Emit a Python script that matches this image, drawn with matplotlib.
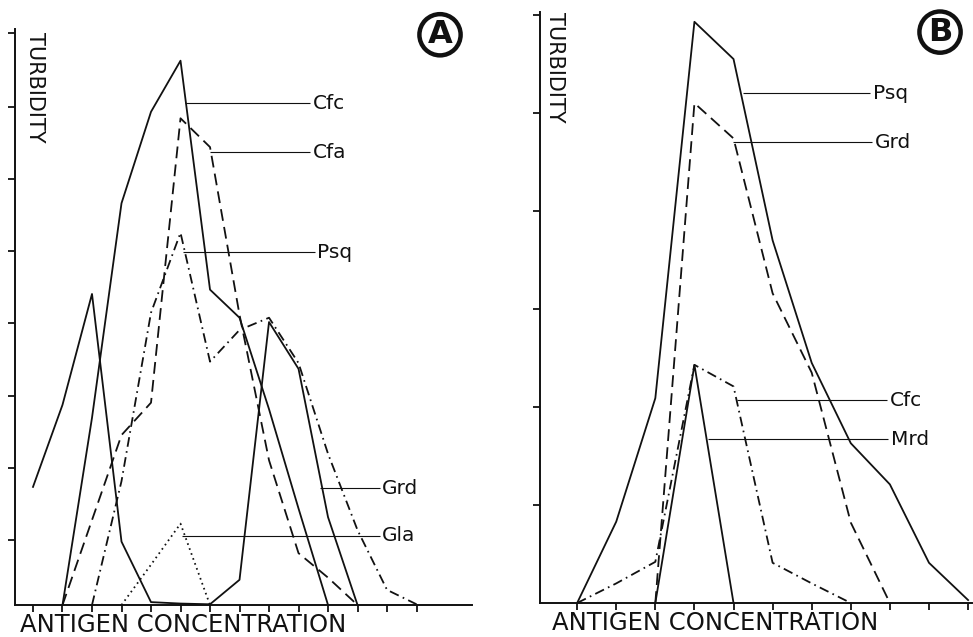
import matplotlib
matplotlib.use("Agg")
import matplotlib.pyplot as plt

plt.rcParams['font.family'] = ['DejaVu Sans']
plt.rcParams['lines.scale_dashes'] = False

# ---------------- Panel A data (x = dilution step index, y = turbidity, arbitrary units)
a_grd_x = [0, 1, 2, 3, 4, 5, 6, 7, 8, 9, 10, 11]
a_grd_y = [1.64, 2.78, 4.32, 0.88, 0.04, 0.02, 0.01, 0.35, 3.93, 3.28, 1.22, 0.0]

a_cfc_x = [1, 2, 3, 4, 5, 6, 7, 8, 9, 10]
a_cfc_y = [0.0, 2.6, 5.58, 6.85, 7.56, 4.38, 3.99, 2.72, 1.34, 0.0]

a_cfa_x = [1, 2, 3, 4, 5, 6, 7, 8, 9, 10, 11]
a_cfa_y = [0.0, 1.18, 2.36, 2.81, 6.76, 6.36, 4.03, 2.01, 0.72, 0.38, 0.0]

a_psq_x = [2, 3, 4, 5, 6, 7, 8, 9, 10, 11, 12, 13]
a_psq_y = [0.0, 1.72, 4.06, 5.17, 3.38, 3.82, 3.99, 3.36, 2.1, 1.04, 0.21, 0.01]

a_gla_x = [3, 4, 5, 6]
a_gla_y = [0.0, 0.56, 1.13, 0.0]

a_xticks = list(range(14))
a_yticks = [0.9, 1.9, 2.9, 3.92, 4.92, 5.92, 6.92, 7.94]

# ---------------- Panel B data
b_psq_x = [0, 1, 2, 3, 4, 5, 6, 7, 8, 9, 10]
b_psq_y = [0.0, 0.83, 2.09, 5.93, 5.55, 3.70, 2.45, 1.63, 1.21, 0.41, 0.03]

b_grd_x = [2, 3, 4, 5, 6, 7, 8]
b_grd_y = [0.0, 5.10, 4.74, 3.16, 2.35, 0.82, 0.0]

b_cfc_x = [0, 1, 2, 3, 4, 5, 6, 7]
b_cfc_y = [0.0, 0.2, 0.42, 2.43, 2.21, 0.41, 0.2, 0.0]

b_mrd_x = [2, 3, 4]
b_mrd_y = [0.0, 2.43, 0.0]

b_xticks = list(range(11))
b_yticks = [1, 2, 3, 4, 5, 6]

# label leaders: (text, x_start, x_end, y)
a_labels = [("Cfc", 5.15, 9.39, 6.97),
            ("Cfa", 6.0, 9.39, 6.29),
            ("Psq", 5.08, 9.56, 4.90),
            ("Grd", 9.73, 11.76, 1.625),
            ("Gla", 5.05, 11.76, 0.96)]
b_labels = [("Psq", 4.25, 7.49, 5.20),
            ("Grd", 3.99, 7.54, 4.70),
            ("Cfc", 4.09, 7.93, 2.07),
            ("Mrd", 3.35, 7.95, 1.67)]

INK = '#111111'
SOLID = '-'
DASH = (0, (8.5, 4.5))
DASHDOT = (0, (7, 3.2, 1.2, 3.2))
DOT = (0, (1.2, 2.6))
LW = 1.3

W, H = 973, 637
fig = plt.figure(figsize=(W / 100, H / 100), dpi=100)
fig.patch.set_facecolor('white')

def px_axes(left, right, bottom, top):
    return fig.add_axes([left / W, (H - bottom) / H, (right - left) / W, (bottom - top) / H])

axA = px_axes(15, 472, 605, 29)
axB = px_axes(540, 972, 603, 12)

axA.set_xlim(-0.61, 14.88)
axA.set_ylim(0, 8.0)
axB.set_xlim(-0.95, 10.1)
axB.set_ylim(0, 6.03)

# Panel A curves
axA.plot(a_grd_x, a_grd_y, ls=SOLID, lw=LW, color=INK)
axA.plot(a_cfc_x, a_cfc_y, ls=SOLID, lw=LW, color=INK)
axA.plot(a_cfa_x, a_cfa_y, ls=DASH, lw=LW, color=INK)
axA.plot(a_psq_x, a_psq_y, ls=DASHDOT, lw=LW, color=INK)
axA.plot(a_gla_x, a_gla_y, ls=DOT, lw=LW, color=INK)

# Panel B curves
axB.plot(b_psq_x, b_psq_y, ls=SOLID, lw=LW, color=INK)
axB.plot(b_grd_x, b_grd_y, ls=DASH, lw=LW, color=INK)
axB.plot(b_cfc_x, b_cfc_y, ls=DASHDOT, lw=LW, color=INK)
axB.plot(b_mrd_x, b_mrd_y, ls=SOLID, lw=LW, color=INK)

for ax, labels in ((axA, a_labels), (axB, b_labels)):
    for name, x0, x1, y in labels:
        ax.plot([x0, x1], [y, y], ls='-', lw=0.8, color=INK, solid_capstyle='butt')
        ax.text(x1 + 0.08, y, name, fontsize=14.5, color=INK, ha='left', va='center')

for ax, xt, yt in ((axA, a_xticks, a_yticks), (axB, b_xticks, b_yticks)):
    for s in ('top', 'right'):
        ax.spines[s].set_visible(False)
    for s in ('left', 'bottom'):
        ax.spines[s].set_linewidth(1.4)
        ax.spines[s].set_color(INK)
    ax.set_xticks(xt)
    ax.set_yticks(yt)
    ax.tick_params(axis='both', direction='out', length=5, width=1.3, color=INK,
                   labelbottom=False, labelleft=False)
    ax.set_facecolor('none')

# axis titles
axA.text(0.011, -0.035, "ANTIGEN CONCENTRATION", transform=axA.transAxes,
         fontsize=17.5, ha='left', va='center', color=INK)
axB.text(0.028, -0.034, "ANTIGEN CONCENTRATION", transform=axB.transAxes,
         fontsize=17.5, ha='left', va='center', color=INK)
axA.text(0.044, 0.995, "TURBIDITY", transform=axA.transAxes, rotation=-90,
         fontsize=15, ha='center', va='top', color=INK)
axB.text(0.035, 1.0, "TURBIDITY", transform=axB.transAxes, rotation=-90,
         fontsize=15, ha='center', va='top', color=INK)

# panel letters
for ax, letter, x, y in ((axA, "A", 0.93, 0.99), (axB, "B", 0.926, 0.966)):
    ax.text(x, y, letter, transform=ax.transAxes, fontsize=23, fontweight='bold',
            ha='center', va='center', color=INK, clip_on=False,
            bbox=dict(boxstyle='circle,pad=0.16', fc='white', ec=INK, lw=3.2))

fig.savefig("out.png", dpi=100, facecolor='white')
